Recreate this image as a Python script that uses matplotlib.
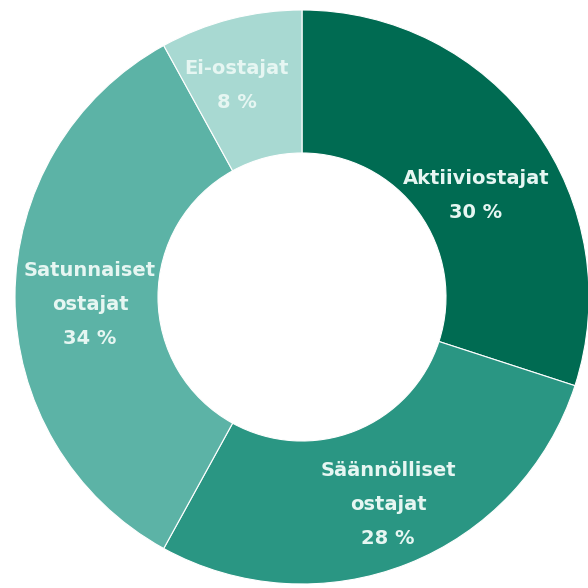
import matplotlib.pyplot as plt

# shares of buyer groups (%), clockwise from the top
groups = ['Aktiiviostajat', 'Säännölliset\nostajat', 'Satunnaiset\nostajat', 'Ei-ostajat']
shares = [30, 28, 34, 8]
colors = ['#006b52', '#2a9683', '#5cb3a6', '#a8d9d2']

# label anchor points in pixel coords (x from left, y from top)
label_pos = [(476, 195), (388, 504), (90, 304), (237, 86)]

fig = plt.figure(figsize=(5.88, 5.88), dpi=100)
ax = fig.add_axes([0, 0, 1, 1])

ax.pie(shares, colors=colors, startangle=90, counterclock=False,
       center=(302, 588 - 297), radius=287,
       wedgeprops=dict(width=143, edgecolor='white', linewidth=0.8))

# pie() resets the limits, so set them afterwards
ax.set_xlim(0, 588)
ax.set_ylim(0, 588)
ax.set_aspect('equal')
ax.axis('off')

for name, val, (x, y) in zip(groups, shares, label_pos):
    ax.text(x, 588 - y, f'{name}\n{val} %', ha='center', va='center',
            fontsize=14, fontweight='bold', color='#e6f6f2',
            family='DejaVu Sans', linespacing=2.0)

fig.savefig('out.png', dpi=100)
